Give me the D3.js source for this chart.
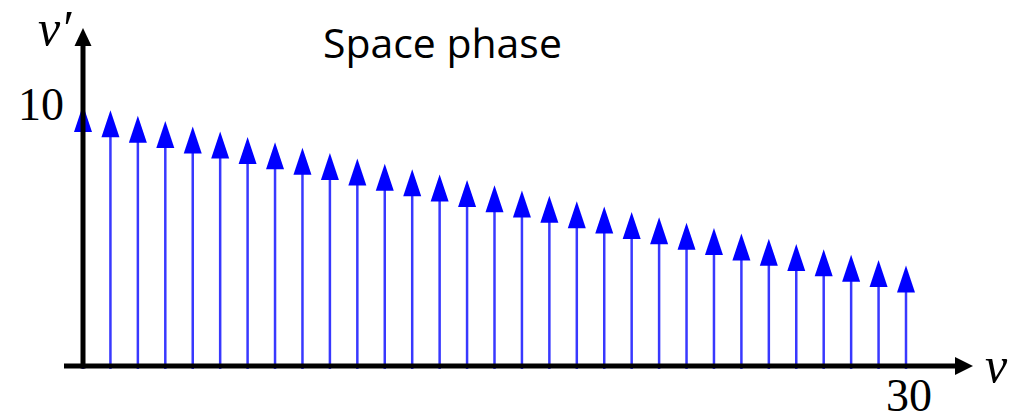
<!DOCTYPE html>
<html>
<head>
<meta charset="utf-8">
<title>Space phase</title>
<script src="https://cdn.jsdelivr.net/npm/d3@7"></script>
<style>
  html, body { margin: 0; padding: 0; background: #fff; }
  svg { display: block; }
</style>
</head>
<body>
<svg id="chart" width="1021" height="420"></svg>
<script>
// v values (x) and v' values (arrow heights)
const vValues = [0, 1, 2, 3, 4, 5, 6, 7, 8, 9, 10, 11, 12, 13, 14, 15,
                 16, 17, 18, 19, 20, 21, 22, 23, 24, 25, 26, 27, 28, 29, 30];
const vPrime = [10, 9.8, 9.59, 9.39, 9.18, 8.98, 8.77, 8.57, 8.36, 8.16, 7.95,
                7.75, 7.54, 7.34, 7.13, 6.93, 6.72, 6.52, 6.31, 6.11, 5.9,
                5.7, 5.49, 5.29, 5.08, 4.88, 4.67, 4.47, 4.26, 4.06, 3.85];
const xTicks = [30];
const yTicks = [10];
const title = "Space phase";

const svg = d3.select("#chart");

const x = d3.scaleLinear().domain([0, 30]).range([83, 906]);
const y = d3.scaleLinear().domain([0, 10]).range([366, 105]);

const data = vValues.map((v, i) => ({ v: v, vp: vPrime[i] }));

const headH = 27, headW = 18;

// blue arrows
const arrows = svg.append("g");
arrows.selectAll("line")
  .data(data)
  .enter().append("line")
  .attr("x1", d => x(d.v))
  .attr("x2", d => x(d.v))
  .attr("y1", y(0) + 3)
  .attr("y2", d => y(d.vp) + headH - 2)
  .attr("stroke", "#3838ff")
  .attr("stroke-width", 2.5);

arrows.selectAll("path")
  .data(data)
  .enter().append("path")
  .attr("d", d => {
    const cx = x(d.v), ty = y(d.vp);
    return `M${cx},${ty} L${cx + headW / 2},${ty + headH} L${cx - headW / 2},${ty + headH} Z`;
  })
  .attr("fill", "#0000ff");

// axes
const x0 = x(0), y0 = y(0);
svg.append("line")
  .attr("x1", 64).attr("x2", 957)
  .attr("y1", y0).attr("y2", y0)
  .attr("stroke", "#000").attr("stroke-width", 5);
svg.append("path")
  .attr("d", `M973,${y0} L955,${y0 - 9} L955,${y0 + 9} Z`)
  .attr("fill", "#000");

svg.append("line")
  .attr("x1", x0).attr("x2", x0)
  .attr("y1", y0 + 2.5).attr("y2", 44)
  .attr("stroke", "#000").attr("stroke-width", 5);
svg.append("path")
  .attr("d", `M${x0},28 L${x0 + 8.5},46 L${x0 - 8.5},46 Z`)
  .attr("fill", "#000");

// tick labels
svg.selectAll("text.ytick")
  .data(yTicks)
  .enter().append("text")
  .attr("class", "ytick")
  .attr("x", 64)
  .attr("y", d => y(d) + 15)
  .attr("text-anchor", "end")
  .attr("font-family", "Liberation Serif, DejaVu Serif, serif")
  .attr("font-size", 46)
  .attr("fill", "#000")
  .text(d => d);

svg.selectAll("text.xtick")
  .data(xTicks)
  .enter().append("text")
  .attr("class", "xtick")
  .attr("x", d => x(d) + 3)
  .attr("y", 411)
  .attr("text-anchor", "middle")
  .attr("font-family", "Liberation Serif, DejaVu Serif, serif")
  .attr("font-size", 46)
  .attr("fill", "#000")
  .text(d => d);

// axis names
svg.append("text")
  .attr("x", 38).attr("y", 45)
  .attr("font-family", "Liberation Serif, DejaVu Serif, serif")
  .attr("font-style", "italic")
  .attr("font-size", 50)
  .attr("fill", "#000")
  .text("v\u2032");

svg.append("text")
  .attr("x", 985).attr("y", 382)
  .attr("font-family", "Liberation Serif, DejaVu Serif, serif")
  .attr("font-style", "italic")
  .attr("font-size", 50)
  .attr("fill", "#000")
  .text("v");

// title
const t = svg.append("text")
  .attr("x", 323).attr("y", 58)
  .attr("font-family", "Open Sans, sans-serif")
  .attr("font-size", 42)
  .attr("fill", "#000")
  .text(title);
const w = t.node().getComputedTextLength();
t.attr("font-size", 42 * 239 / w);
</script>
</body>
</html>
